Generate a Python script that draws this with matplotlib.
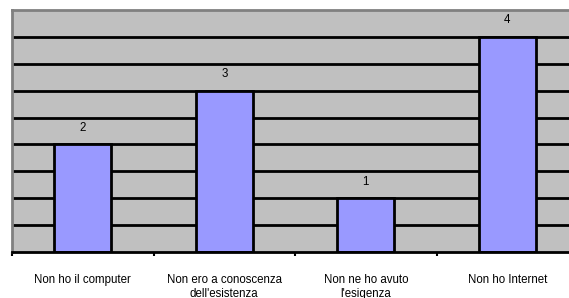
import matplotlib.pyplot as plt
import numpy as np

categories = ["Non ho il computer", "Non ero a conoscenza\ndell'esistenza",
              "Non ne ho avuto\nl'esigenza", "Non ho Internet"]
values = [2, 3, 1, 4]

plt.rcParams['font.family'] = ['Liberation Sans', 'DejaVu Sans']

fig = plt.figure(figsize=(5.69, 2.98), dpi=100)
# plot area runs past the right edge, like the cropped original
ax = fig.add_axes([12 / 569, 46 / 298, 566 / 569, 242 / 298])
ax.set_facecolor('#C0C0C0')

x = np.arange(len(categories))
ax.set_xlim(-0.5, len(categories) - 0.5)
ax.set_ylim(0, 4.5)

for yv in np.arange(0.5, 4.5, 0.5):
    ax.axhline(yv, color='black', lw=2, zorder=1)

ax.bar(x, values, width=0.4, color='#9999FF', edgecolor='black', lw=2, zorder=2)

for xi, v in zip(x, values):
    ax.annotate(str(v), (xi, v), xytext=(0, 12), textcoords='offset points',
                ha='center', va='center', fontsize=8.3)

ax.set_yticks([])
ax.set_xticks(x)
ax.set_xticklabels(categories, fontsize=8.3)
ax.tick_params(axis='x', which='major', length=0, pad=16)
ax.set_xticks(np.arange(-0.5, len(categories), 1.0), minor=True)
ax.tick_params(axis='x', which='minor', length=3, width=1.5, direction='out', color='black')

for s in ['left', 'top', 'right']:
    ax.spines[s].set_color('#808080')
    ax.spines[s].set_linewidth(2)
ax.spines['bottom'].set_color('black')
ax.spines['bottom'].set_linewidth(2)

fig.savefig('out.png', dpi=100)
